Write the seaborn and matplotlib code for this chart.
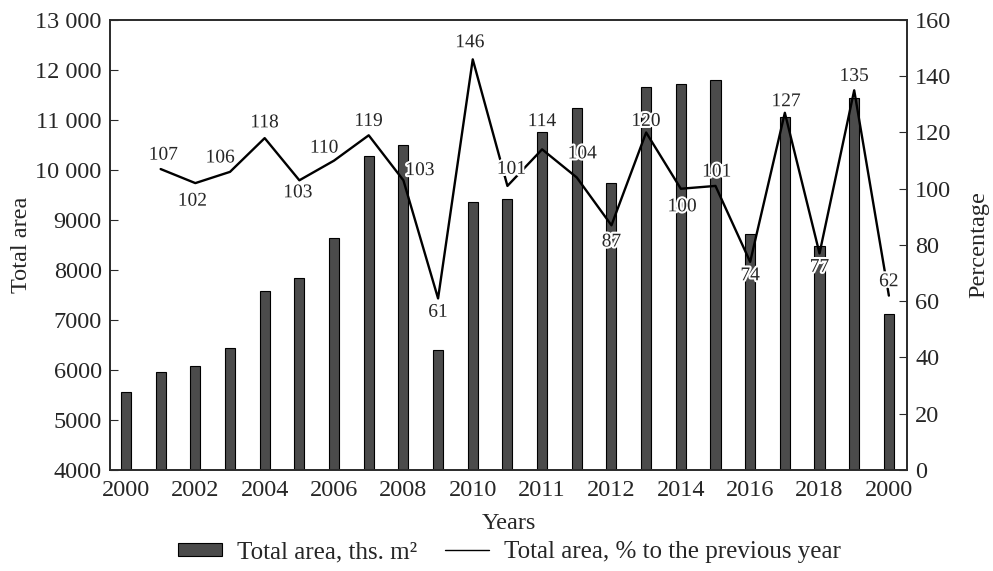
import pandas as pd
import matplotlib
matplotlib.use("Agg")
import matplotlib.pyplot as plt
import matplotlib.patheffects as pe
from matplotlib.patches import Patch
from matplotlib.lines import Line2D
from matplotlib.ticker import FuncFormatter, MultipleLocator
import seaborn as sns

# ── DATA ──────────────────────────────────────────────────────────────────────
total_area = [5550, 5950, 6080, 6430, 7570, 7830, 8630, 10270, 10490, 6400,
              9350, 9410, 10750, 11230, 9740, 11650, 11720, 11790, 8710,
              11050, 8470, 11430, 7120]
pct_prev = [107, 102, 106, 118, 103, 110, 119, 103, 61, 146, 101,
            114, 104, 87, 120, 100, 101, 74, 127, 77, 135, 62]
tick_labels = ["2000", "2002", "2004", "2006", "2008", "2010",
               "2011", "2012", "2014", "2016", "2018", "2000"]

# label offsets (points) for the % annotations
label_offsets = [(2, 10), (-2, -13), (-7, 10), (0, 11), (-1, -9), (-7, 9),
                 (0, 10), (12, 7), (0, -10), (-2, 12), (3, 12), (0, 20),
                 (4, 17), (0, -12), (0, 8), (1, -13), (1, 10), (0, -10),
                 (1, 8), (0, -10), (0, 10), (0, 10)]

bars_df = pd.DataFrame({"pos": range(len(total_area)), "area": total_area})
line_df = pd.DataFrame({"pos": range(1, len(pct_prev) + 1), "pct": pct_prev})

sns.set_style("ticks")
plt.rcParams["font.family"] = ["Liberation Serif", "DejaVu Serif"]

BAR = "#4b4b4b"
SPINE = "#2a2a2a"

fig = plt.figure(figsize=(9.93, 5.71), dpi=100)
ax = fig.add_axes([0.1108, 0.1769, 0.8025, 0.7881])
ax2 = ax.twinx()

sns.barplot(data=bars_df, x="pos", y="area", color=BAR, saturation=1,
            width=0.29, edgecolor="black", linewidth=0.8, ax=ax)
sns.lineplot(data=line_df, x="pos", y="pct", color="black", lw=1.7, ax=ax2)

for (x, v), (dx, dy) in zip(zip(line_df["pos"], line_df["pct"]), label_offsets):
    ax2.annotate(str(v), xy=(x, v), xytext=(dx, dy), textcoords="offset points",
                 ha="center", va="center", fontsize=14,
                 path_effects=[pe.withStroke(linewidth=3, foreground="white")])

ax.set_xlim(-0.46, 22.52)
ax.set_ylim(4000, 13000)
ax.yaxis.set_major_locator(MultipleLocator(1000))
ax.yaxis.set_major_formatter(FuncFormatter(
    lambda v, p: f"{int(v):,}".replace(",", " ") if v >= 10000 else f"{int(v)}"))
ax.set_xticks(range(0, 23, 2))
ax.set_xticklabels(tick_labels)
ax2.set_ylim(0, 160)
ax2.yaxis.set_major_locator(MultipleLocator(20))

ax.set_xlabel("Years", fontsize=17.5, labelpad=9)
ax.set_ylabel("Total area", fontsize=17.5, labelpad=2)
ax2.set_ylabel("Percentage", fontsize=17.5, labelpad=12)

ax.tick_params(axis="y", direction="in", length=6, labelsize=17.5, color=SPINE, pad=6)
ax.tick_params(axis="x", length=0, labelsize=17.5, pad=7)
ax2.tick_params(axis="y", direction="in", length=6, labelsize=17.5, color=SPINE, pad=6)
for a in (ax, ax2):
    for s in a.spines.values():
        s.set_color(SPINE)
        s.set_linewidth(1.2)

handles = [Patch(facecolor=BAR, edgecolor="black", linewidth=0.8),
           Line2D([], [], color="black", lw=1)]
fig.legend(handles, ["Total area, ths. m\u00b2", "Total area, % to the previous year"],
           loc="center", bbox_to_anchor=(0.513, 0.033), ncol=2, frameon=False,
           fontsize=18, handlelength=1.75, handleheight=0.45, columnspacing=1.1,
           handletextpad=0.6)

fig.savefig("out.png", dpi=100)
